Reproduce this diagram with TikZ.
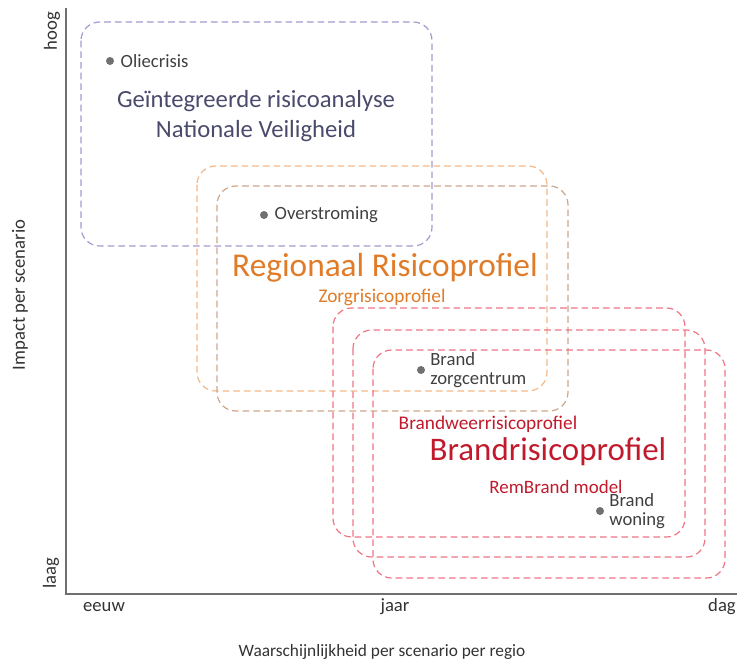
\documentclass[tikz,border=0pt]{standalone}
\usepackage{fontspec}
\setmainfont{Carlito}
\usetikzlibrary{positioning}
\definecolor{axisgray}{HTML}{707070}
\definecolor{nvline}{HTML}{A898D0}
\definecolor{nvtext}{HTML}{4A4A6C}
\definecolor{rrline}{HTML}{F2B98A}
\definecolor{zrline}{HTML}{CDA68C}
\definecolor{rrtext}{HTML}{E07B28}
\definecolor{brline}{HTML}{F07585}
\definecolor{brtext}{HTML}{C01A2C}
\begin{document}
\begin{tikzpicture}[x=0.75pt,y=-0.75pt,
  every node/.style={inner sep=0pt,outer sep=0pt},
  zone/.style={dashed,dash pattern=on 5pt off 3pt,rounded corners=14pt,line width=0.9pt},
  dot/.style={circle,fill=axisgray,minimum size=6pt},
  lbl/.style={text=black!75,font=\fontsize{14}{14.5}\selectfont,align=left},
  ax/.style={text=black!80,font=\fontsize{14}{15}\selectfont}
  ]
  \useasboundingbox (0,0) rectangle (737,664);

  % zones
  \draw[zone,draw=nvline] (81,22) rectangle (432,246);
  \draw[zone,draw=rrline] (197,166) rectangle (547,391);
  \draw[zone,draw=zrline] (217,186) rectangle (568,411);
  \draw[zone,draw=brline] (333,308) rectangle (685,537);
  \draw[zone,draw=brline] (353,330) rectangle (705,557);
  \draw[zone,draw=brline] (373,350) rectangle (725,578);

  % axes
  \draw[axisgray,line width=1.6pt] (66,8) -- (66,594) -- (737,594);
  \node[ax,rotate=90] (hoog) at (52,31) {hoog};
  \node[ax,rotate=90] (laag) at (51,573) {laag};
  \node[ax,rotate=90] (impact) at (20,295) {Impact per scenario};
  \node[ax] (eeuw) at (104,607) {eeuw};
  \node[ax] (jaar) at (395,607) {jaar};
  \node[ax] (dag) at (722,607) {dag};
  \node[ax,font=\fontsize{13}{14}\selectfont] (kans) at (382,652) {Waarschijnlijkheid per scenario per regio};

  % scenarios
  \node[dot] (olie) at (110,61) {};
  \node[lbl,right=5pt of olie] (olielbl) {Oliecrisis};
  \node[dot] (over) at (264,215) {};
  \node[lbl,right=5pt of over] (overlbl) {Overstroming};
  \node[dot] (zorg) at (421,370) {};
  \node[lbl,right=4pt of zorg] (zorglbl) {Brand\\zorgcentrum};
  \node[dot] (won) at (600,511) {};
  \node[lbl,right=4pt of won] (wonlbl) {Brand\\woning};

  % titles
  \node[text=nvtext,font=\fontsize{18.5}{22.5}\selectfont,align=center] (nv) at (256,116)
    {Geïntegreerde risicoanalyse\\Nationale Veiligheid};
  \node[text=rrtext,font=\fontsize{25}{26}\selectfont] (rr) at (385,268) {Regionaal Risicoprofiel};
  \node[text=rrtext,font=\fontsize{14.5}{15}\selectfont] (zr) at (382,297) {Zorgrisicoprofiel};
  \node[text=brtext,font=\fontsize{14.5}{15}\selectfont] (bw) at (488,424) {Brandweerrisicoprofiel};
  \node[text=brtext,font=\fontsize{24.7}{26}\selectfont] (br) at (548,452) {Brandrisicoprofiel};
  \node[text=brtext,font=\fontsize{14.2}{15}\selectfont] (rb) at (556,487) {RemBrand model};
\end{tikzpicture}
\end{document}
